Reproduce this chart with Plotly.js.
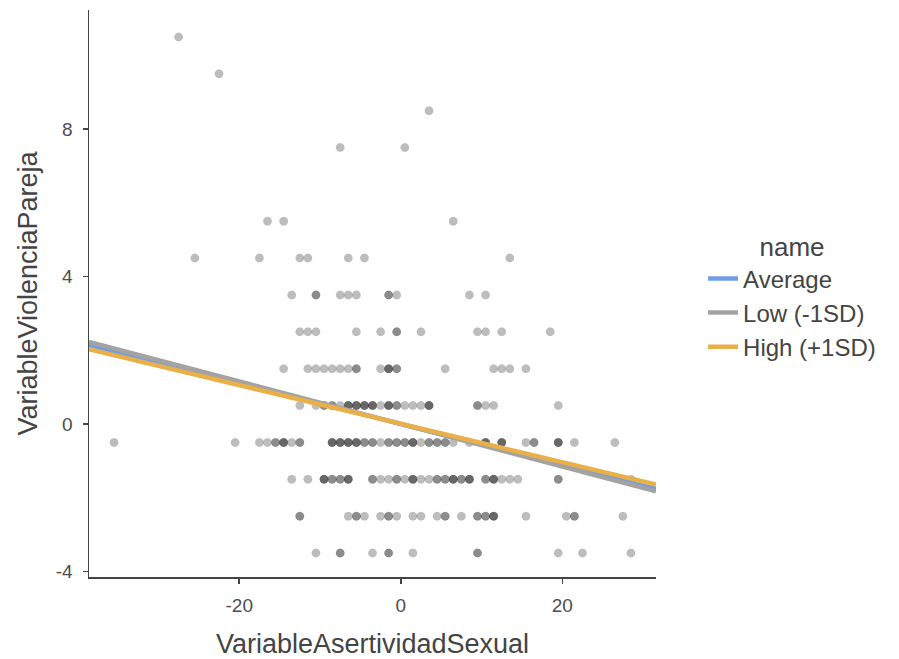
<!DOCTYPE html>
<html>
<head>
<meta charset="utf-8">
<script src="https://cdn.plot.ly/plotly-3.0.1.min.js"></script>
<style>html,body{margin:0;padding:0;background:#fff;}#chart{width:899px;height:659px;}</style>
</head>
<body>
<div id="chart"></div>
<script>
// Scatter points: one array of x values per y level (repeats = overlapping points)
const rowY = [10.5, 9.5, 8.5, 7.5, 5.5, 4.5, 3.5, 2.5, 1.5, 0.5, -0.5, -1.5, -2.5, -3.5];
const rowX = [
  [-27.5],
  [-22.5],
  [3.5],
  [-7.5, 0.5],
  [-16.5, -14.5, 6.5],
  [-25.5, -17.5, -12.5, -11.5, -6.5, -4.5, 13.5],
  [-13.5, -10.5, -10.5, -7.5, -6.5, -5.5, -1.5, -1.5, -0.5, 8.5, 10.5],
  [-12.5, -11.5, -10.5, -5.5, -2.5, -0.5, -0.5, 2.5, 9.5, 10.5, 12.5, 18.5],
  [-14.5, -11.5, -10.5, -9.5, -8.5, -7.5, -6.5, -5.5, -5.5, -2.5, -1.5, -1.5, -1.5,
   -0.5, -0.5, 5.5, 11.5, 12.5, 13.5, 15.5],
  [-12.5, -10.5, -9.5, -9.5, -8.5, -8.5, -7.5, -6.5, -6.5, -6.5, -5.5, -5.5, -5.5,
   -4.5, -4.5, -4.5, -3.5, -3.5, -3.5, -2.5, -1.5, -1.5, -1.5, -0.5, -0.5, 0.5, 1.5,
   2.5, 3.5, 3.5, 3.5, 9.5, 9.5, 10.5, 11.5, 19.5],
  [-35.5, -20.5, -17.5, -16.5, -15.5, -15.5, -14.5, -14.5, -14.5, -13.5, -12.5, -12.5,
   -8.5, -8.5, -8.5, -7.5, -7.5, -7.5, -6.5, -6.5, -6.5, -5.5, -5.5, -5.5, -4.5, -4.5,
   -3.5, -3.5, -2.5, -1.5, -1.5, -0.5, -0.5, 0.5, 0.5, 1.5, 1.5, 1.5, 2.5, 3.5, 3.5,
   4.5, 4.5, 5.5, 5.5, 6.5, 8.5, 10.5, 10.5, 10.5, 12.5, 12.5, 12.5, 15.5, 16.5, 16.5,
   19.5, 19.5, 19.5, 21.5, 26.5],
  [-13.5, -11.5, -9.5, -9.5, -9.5, -8.5, -8.5, -7.5, -7.5, -6.5, -6.5, -6.5, -3.5, -3.5,
   -2.5, -1.5, -0.5, -0.5, 0.5, 1.5, 1.5, 1.5, 2.5, 3.5, 4.5, 4.5, 5.5, 5.5, 6.5, 6.5,
   6.5, 7.5, 7.5, 8.5, 8.5, 8.5, 10.5, 10.5, 11.5, 11.5, 11.5, 12.5, 13.5, 14.5, 19.5,
   19.5, 28.5],
  [-12.5, -12.5, -6.5, -5.5, -5.5, -4.5, -2.5, -1.5, -1.5, -0.5, 1.5, 2.5, 4.5, 5.5, 5.5,
   7.5, 9.5, 9.5, 10.5, 10.5, 11.5, 11.5, 11.5, 15.5, 20.5, 21.5, 21.5, 27.5],
  [-10.5, -7.5, -7.5, -3.5, -1.5, -1.5, 1.5, 9.5, 9.5, 19.5, 22.5, 28.5]
];

// Simple slopes (regression lines)
const lineNames = ["Average", "Low (-1SD)", "High (+1SD)"];
const lineIntercepts = [0.0, 0.0, 0.01];
const lineSlopes = [-0.0556, -0.0577, -0.0523];

// Axes
const xRange = [-38.6, 31.6];
const yRange = [-4.15, 11.23];
const xTicks = [-20, 0, 20];
const yTicks = [-4, 0, 4, 8];

const lineColors = ["#6f9ee6", "#a3a3a3", "#e9b04a"];

const px = [], py = [];
rowY.forEach((y, i) => rowX[i].forEach(x => { px.push(x); py.push(y); }));

const traces = [{
  type: "scatter", mode: "markers", x: px, y: py, showlegend: false, hoverinfo: "skip",
  marker: {size: 8.5, color: "rgba(0,0,0,0.26)", line: {width: 0.6, color: "rgba(0,0,0,0.08)"}}
}];
lineNames.forEach((n, i) => {
  traces.push({
    type: "scatter", mode: "lines", name: n,
    x: xRange.slice(),
    y: xRange.map(x => lineIntercepts[i] + lineSlopes[i] * x),
    line: {color: lineColors[i], width: 4.5}
  });
});

const FONT = "Liberation Sans, Arial, sans-serif";
const axisCommon = {
  showgrid: false, zeroline: false, showline: true, linecolor: "#444", linewidth: 1.5,
  ticks: "outside", ticklen: 5, tickwidth: 1.5, tickcolor: "#444",
  tickfont: {family: FONT, size: 19, color: "#4d4d4d"},
  fixedrange: true
};

const layout = {
  width: 899, height: 659,
  margin: {l: 89, r: 243, t: 10, b: 82},
  paper_bgcolor: "#fff", plot_bgcolor: "#fff",
  font: {family: FONT, color: "#444"},
  xaxis: Object.assign({}, axisCommon, {
    range: xRange, tickvals: xTicks, ticktext: xTicks.map(String),
    ticklabelstandoff: 6,
    title: {text: "VariableAsertividadSexual", font: {size: 27, color: "#444"}, standoff: 20}
  }),
  yaxis: Object.assign({}, axisCommon, {
    range: yRange, tickvals: yTicks, ticktext: yTicks.map(String),
    ticklabelstandoff: 6,
    title: {text: "VariableViolenciaPareja", font: {size: 27, color: "#444"}, standoff: 10}
  }),
  showlegend: true,
  legend: {
    x: 1.083, y: 0.366, xanchor: "left", yanchor: "bottom",
    font: {family: FONT, size: 24, color: "#444"},
    title: {text: "name", font: {family: FONT, size: 26, color: "#444"}, side: "top center"},
    bgcolor: "rgba(0,0,0,0)", tracegroupgap: 0
  }
};

Plotly.newPlot("chart", traces, layout, {displayModeBar: false, staticPlot: true});
</script>
</body>
</html>
